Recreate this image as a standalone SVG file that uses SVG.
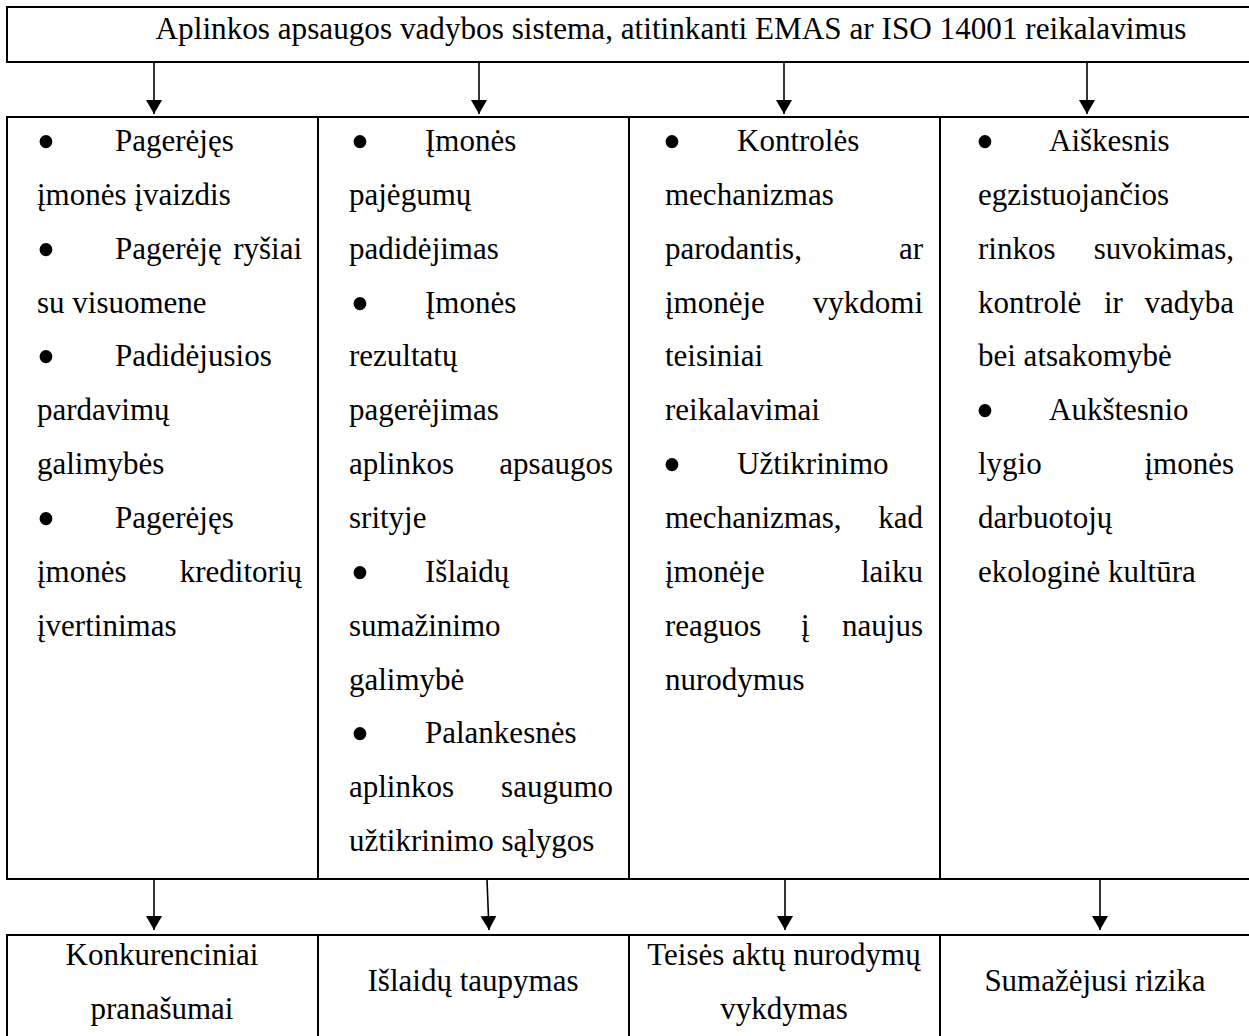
<svg xmlns="http://www.w3.org/2000/svg" width="1249" height="1036" viewBox="0 0 1249 1036">
<style>
.box{fill:#fff;stroke:#000;stroke-width:2}
.t{font-family:"Liberation Serif","Times New Roman",serif;font-size:31px;fill:#000}
.b{font-family:"Liberation Serif","Times New Roman",serif;font-size:54px;fill:#000;text-anchor:middle}
.e{text-anchor:end}
.m{text-anchor:middle}
.conn line{stroke:#000;stroke-width:1.6;marker-end:url(#ah)}
</style>
<defs>
<marker id="ah" viewBox="0 0 14 16" refX="14" refY="8" markerWidth="14" markerHeight="16" markerUnits="userSpaceOnUse" orient="auto">
<path d="M0,0 L14,8 L0,16 Z" fill="#000"/>
</marker>
</defs>
<rect width="1249" height="1036" fill="#fff"/>

<g id="top">
<rect class="box" x="7" y="7" width="1250" height="55"/>
<text class="t m" x="671" y="39" style="font-size:31.2px">Aplinkos apsaugos vadybos sistema, atitinkanti EMAS ar ISO 14001 reikalavimus</text>
</g>

<g id="col1">
<rect class="box" x="7" y="117" width="311" height="762"/>
<text class="b" x="46" y="160">•</text>
<text class="t" x="115" y="151">Pagerėjęs</text>
<text class="t" x="37" y="205">įmonės įvaizdis</text>
<text class="b" x="46" y="268">•</text>
<text class="t" x="115" y="259">Pagerėję</text><text class="t e" x="302" y="259">ryšiai</text>
<text class="t" x="37" y="313">su visuomene</text>
<text class="b" x="46" y="375">•</text>
<text class="t" x="115" y="366">Padidėjusios</text>
<text class="t" x="37" y="420">pardavimų</text>
<text class="t" x="37" y="474">galimybės</text>
<text class="b" x="46" y="537">•</text>
<text class="t" x="115" y="528">Pagerėjęs</text>
<text class="t" x="37" y="582">įmonės</text><text class="t e" x="302" y="582">kreditorių</text>
<text class="t" x="37" y="636">įvertinimas</text>
</g>

<g id="col2">
<rect class="box" x="318" y="117" width="311" height="762"/>
<text class="b" x="360" y="160">•</text>
<text class="t" x="425" y="151">Įmonės</text>
<text class="t" x="349" y="205">pajėgumų</text>
<text class="t" x="349" y="259">padidėjimas</text>
<text class="b" x="360" y="322">•</text>
<text class="t" x="425" y="313">Įmonės</text>
<text class="t" x="349" y="366">rezultatų</text>
<text class="t" x="349" y="420">pagerėjimas</text>
<text class="t" x="349" y="474">aplinkos</text><text class="t e" x="613" y="474">apsaugos</text>
<text class="t" x="349" y="528">srityje</text>
<text class="b" x="360" y="591">•</text>
<text class="t" x="425" y="582">Išlaidų</text>
<text class="t" x="349" y="636">sumažinimo</text>
<text class="t" x="349" y="690">galimybė</text>
<text class="b" x="360" y="752">•</text>
<text class="t" x="425" y="743">Palankesnės</text>
<text class="t" x="349" y="797">aplinkos</text><text class="t e" x="613" y="797">saugumo</text>
<text class="t" x="349" y="851">užtikrinimo sąlygos</text>
</g>

<g id="col3">
<rect class="box" x="629" y="117" width="311" height="762"/>
<text class="b" x="672" y="160">•</text>
<text class="t" x="737" y="151">Kontrolės</text>
<text class="t" x="665" y="205">mechanizmas</text>
<text class="t" x="665" y="259">parodantis,</text><text class="t e" x="923" y="259">ar</text>
<text class="t" x="665" y="313">įmonėje</text><text class="t e" x="923" y="313">vykdomi</text>
<text class="t" x="665" y="366">teisiniai</text>
<text class="t" x="665" y="420">reikalavimai</text>
<text class="b" x="672" y="483">•</text>
<text class="t" x="737" y="474">Užtikrinimo</text>
<text class="t" x="665" y="528">mechanizmas,</text><text class="t e" x="923" y="528">kad</text>
<text class="t" x="665" y="582">įmonėje</text><text class="t e" x="923" y="582">laiku</text>
<text class="t" x="665" y="636">reaguos</text><text class="t" x="801" y="636">į</text><text class="t e" x="923" y="636">naujus</text>
<text class="t" x="665" y="690">nurodymus</text>
</g>

<g id="col4">
<rect class="box" x="940" y="117" width="312" height="762"/>
<text class="b" x="985" y="160">•</text>
<text class="t" x="1049" y="151">Aiškesnis</text>
<text class="t" x="978" y="205">egzistuojančios</text>
<text class="t" x="978" y="259">rinkos</text><text class="t e" x="1234" y="259">suvokimas,</text>
<text class="t" x="978" y="313">kontrolė</text><text class="t" x="1104" y="313">ir</text><text class="t e" x="1234" y="313">vadyba</text>
<text class="t" x="978" y="366">bei atsakomybė</text>
<text class="b" x="985" y="429">•</text>
<text class="t" x="1049" y="420">Aukštesnio</text>
<text class="t" x="978" y="474">lygio</text><text class="t e" x="1234" y="474">įmonės</text>
<text class="t" x="978" y="528">darbuotojų</text>
<text class="t" x="978" y="582">ekologinė kultūra</text>
</g>

<g id="res1">
<rect class="box" x="7" y="935" width="311" height="120"/>
<text class="t m" x="162" y="965">Konkurenciniai</text>
<text class="t m" x="162" y="1019">pranašumai</text>
</g>
<g id="res2">
<rect class="box" x="318" y="935" width="311" height="120"/>
<text class="t m" x="473" y="991">Išlaidų taupymas</text>
</g>
<g id="res3">
<rect class="box" x="629" y="935" width="311" height="120"/>
<text class="t m" x="784" y="965">Teisės aktų nurodymų</text>
<text class="t m" x="784" y="1019">vykdymas</text>
</g>
<g id="res4">
<rect class="box" x="940" y="935" width="312" height="120"/>
<text class="t m" x="1095" y="991">Sumažėjusi rizika</text>
</g>

<g id="connectors" class="conn">
<line x1="154" y1="63" x2="154" y2="114"/>
<line x1="479" y1="63" x2="479" y2="114"/>
<line x1="784" y1="63" x2="784" y2="114"/>
<line x1="1087" y1="63" x2="1087" y2="114"/>
<line x1="154" y1="880" x2="154" y2="930"/>
<line x1="487" y1="880" x2="489" y2="930"/>
<line x1="785" y1="880" x2="785" y2="930"/>
<line x1="1100" y1="880" x2="1100" y2="930"/>
</g>
</svg>
